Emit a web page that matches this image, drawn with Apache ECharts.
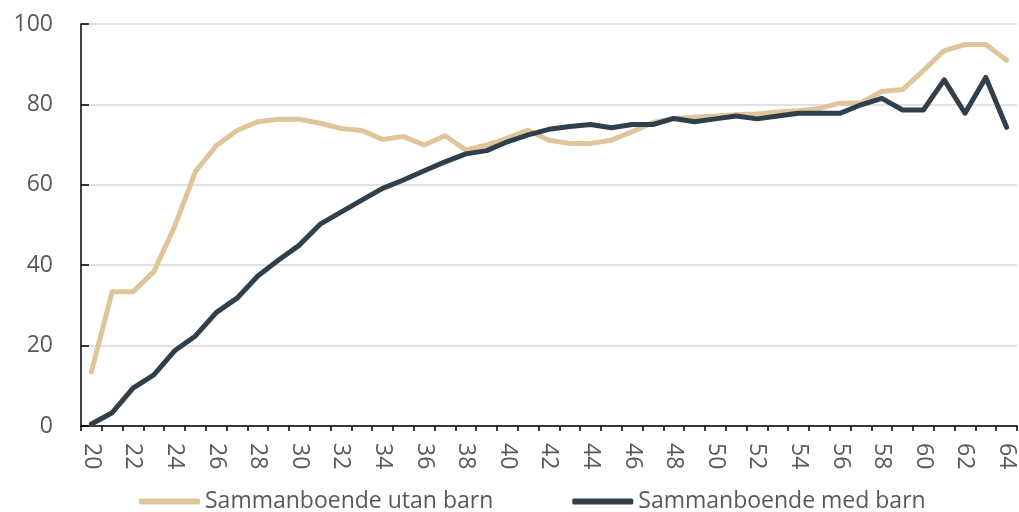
<!DOCTYPE html>
<html>
<head>
<meta charset="utf-8">
<script src="https://cdn.jsdelivr.net/npm/echarts@6/dist/echarts.min.js"></script>
<style>
  html, body { margin: 0; padding: 0; background: #fff; }
  #chart { width: 1019px; height: 512px; }
</style>
</head>
<body>
<div id="chart"></div>
<script>
// Ålder (år)
const ages = [];
for (let a = 20; a <= 64; a++) ages.push(String(a));

// Andel (%) per ålder
const utanBarn = [
  13.5, 33.4, 33.4, 38.4, 49.6, 63.3, 69.7, 73.5, 75.7, 76.3,
  76.3, 75.3, 74.0, 73.5, 71.3, 72.0, 69.9, 72.2, 68.7, 69.9,
  71.6, 73.6, 71.1, 70.3, 70.3, 71.1, 73.2, 75.5, 76.5, 76.8,
  77.1, 77.4, 77.6, 78.1, 78.4, 79.0, 80.3, 80.4, 83.2, 83.7,
  88.4, 93.4, 94.9, 94.9, 91.0
];
const medBarn = [
  0.5, 3.3, 9.4, 12.7, 18.7, 22.4, 28.2, 31.8, 37.3, 41.3,
  45.0, 50.2, 53.2, 56.2, 59.1, 61.2, 63.5, 65.7, 67.7, 68.5,
  70.7, 72.4, 73.8, 74.5, 75.0, 74.2, 75.0, 75.0, 76.5, 75.7,
  76.4, 77.1, 76.4, 77.1, 77.8, 77.8, 77.8, 79.9, 81.5, 78.6,
  78.6, 86.1, 77.8, 86.7, 74.3
];

const seriesNames = ['Sammanboende utan barn', 'Sammanboende med barn'];
const colors = ['#E0C59B', '#2F3F4C'];

const font = '"Open Sans", "Noto Sans", sans-serif';
const chart = echarts.init(document.getElementById('chart'), null, { renderer: 'canvas' });

chart.setOption({
  animation: false,
  color: colors,
  grid: { left: 81, right: 2, top: 24, bottom: 86, containLabel: false },
  legend: {
    left: 134,
    top: 485,
    itemWidth: 61,
    itemHeight: 6,
    itemGap: 79,
    icon: 'roundRect',
    textStyle: { fontFamily: font, fontSize: 23, color: '#595959', width: 309 },
    data: seriesNames
  },
  xAxis: {
    type: 'category',
    data: ages,
    boundaryGap: true,
    axisLine: { lineStyle: { color: '#000', width: 1.5 } },
    axisTick: { show: true, interval: 0, length: 5, lineStyle: { color: '#000', width: 1.5 } },
    axisLabel: {
      interval: 1,
      rotate: -90,
      margin: 17,
      fontFamily: font,
      fontSize: 23,
      color: '#595959'
    },
    splitLine: { show: false }
  },
  yAxis: {
    type: 'value',
    min: 0,
    max: 100,
    interval: 20,
    axisLine: { show: true, lineStyle: { color: '#000', width: 1.5 } },
    axisTick: { show: true, inside: true, length: 8, lineStyle: { color: '#000', width: 1.5 } },
    axisLabel: { margin: 28, fontFamily: font, fontSize: 23, color: '#595959' },
    splitLine: { show: true, lineStyle: { color: '#D9D9D9', width: 1.5 } }
  },
  series: [
    {
      name: seriesNames[0],
      type: 'line',
      data: utanBarn,
      showSymbol: false,
      symbol: 'none',
      lineStyle: { width: 5, color: colors[0], cap: 'round', join: 'round' },
      z: 2
    },
    {
      name: seriesNames[1],
      type: 'line',
      data: medBarn,
      showSymbol: false,
      symbol: 'none',
      lineStyle: { width: 5, color: colors[1], cap: 'round', join: 'round' },
      z: 3
    }
  ]
});
</script>
</body>
</html>
